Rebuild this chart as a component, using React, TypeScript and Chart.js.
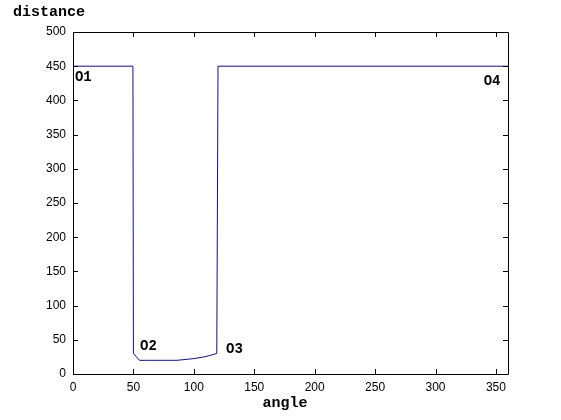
import React, { useEffect, useRef } from "react";
import { Chart, registerables } from "chart.js";

Chart.register(...registerables);

const angles = [0, 49.6, 50, 55, 70, 86, 100, 110, 119, 120, 360];
const distances = [450, 450, 30, 20, 20, 20, 22.5, 25.5, 30, 450, 450];

const xTicks = [0, 50, 100, 150, 200, 250, 300, 350];
const yTicks = [0, 50, 100, 150, 200, 250, 300, 350, 400, 450, 500];

const pointLabels = ["O1", "O2", "O3", "O4"];
const labelAngles = [1.6, 55.5, 126.6, 353.8];
const labelDistances = [433, 40, 36.5, 428];
const labelAligns = ["left", "left", "left", "right"];

const xTitle = "angle";
const yTitle = "distance";

const LINE_COLOR = "#10107a";

const decorPlugin = {
  id: "decor",
  afterDraw(chart: any) {
    const { ctx, chartArea: a, scales } = chart;
    const xs = scales.x;
    const ys = scales.y;
    ctx.save();
    ctx.strokeStyle = "#000";
    ctx.lineWidth = 1;
    ctx.beginPath();
    ctx.rect(Math.round(a.left) + 0.5, Math.round(a.top) + 0.5, Math.round(a.right - a.left), Math.round(a.bottom - a.top));
    ctx.stroke();
    const tl = 5;
    ctx.beginPath();
    xTicks.forEach((v) => {
      const px = Math.round(xs.getPixelForValue(v)) + 0.5;
      ctx.moveTo(px, a.bottom);
      ctx.lineTo(px, a.bottom - tl);
      ctx.moveTo(px, a.top);
      ctx.lineTo(px, a.top + tl);
    });
    yTicks.forEach((v) => {
      const py = Math.round(ys.getPixelForValue(v)) + 0.5;
      ctx.moveTo(a.left, py);
      ctx.lineTo(a.left + tl, py);
      ctx.moveTo(a.right, py);
      ctx.lineTo(a.right - tl, py);
    });
    ctx.stroke();

    ctx.fillStyle = "#000";
    ctx.font = "bold 14px 'Liberation Mono', 'Courier New', monospace";
    ctx.textBaseline = "middle";
    pointLabels.forEach((t, i) => {
      ctx.textAlign = labelAligns[i] as CanvasTextAlign;
      ctx.fillText(t, xs.getPixelForValue(labelAngles[i]), ys.getPixelForValue(labelDistances[i]));
    });

    ctx.font = "bold 15px 'Liberation Mono', 'Courier New', monospace";
    ctx.textBaseline = "alphabetic";
    ctx.textAlign = "left";
    ctx.fillText(yTitle, 13, 16);
    ctx.textAlign = "center";
    ctx.fillText(xTitle, 285, 407);
    ctx.restore();
  },
};

export default function App() {
  const ref = useRef<HTMLCanvasElement | null>(null);
  useEffect(() => {
    if (!ref.current) return;
    const data = angles.map((a, i) => ({ x: a, y: distances[i] }));
    const chart = new Chart(ref.current, {
      type: "line",
      data: {
        datasets: [
          {
            data,
            borderColor: LINE_COLOR,
            borderWidth: 1,
            pointRadius: 0,
            fill: false,
            tension: 0,
          },
        ],
      },
      options: {
        animation: false,
        responsive: false,
        devicePixelRatio: 1,
        layout: { padding: { left: 0, top: 32, right: 53, bottom: 0 } },
        plugins: { legend: { display: false }, tooltip: { enabled: false } },
        scales: {
          x: {
            type: "linear",
            min: 0,
            max: 360,
            grid: { display: false, drawTicks: false },
            border: { display: false },
            afterFit: (s: any) => {
              s.height = 46;
            },
            afterBuildTicks: (s: any) => {
              s.ticks = xTicks.map((v) => ({ value: v }));
            },
            ticks: {
              padding: 6,
              color: "#000",
              maxRotation: 0,
              font: { family: "'Liberation Sans', Arial, sans-serif", size: 12 },
            },
          },
          y: {
            type: "linear",
            min: 0,
            max: 500,
            grid: { display: false, drawTicks: false },
            border: { display: false },
            afterFit: (s: any) => {
              s.width = 73;
            },
            afterBuildTicks: (s: any) => {
              s.ticks = yTicks.map((v) => ({ value: v }));
            },
            ticks: {
              padding: 7,
              color: "#000",
              font: { family: "'Liberation Sans', Arial, sans-serif", size: 12 },
            },
          },
        },
      },
      plugins: [decorPlugin],
    });
    return () => chart.destroy();
  }, []);
  return (
    <div style={{ position: "absolute", left: 0, top: 0, width: 561, height: 420, background: "#fff" }}>
      <canvas ref={ref} width={561} height={420} style={{ display: "block" }} />
    </div>
  );
}
